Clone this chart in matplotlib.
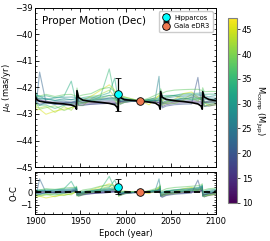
import numpy as np
import matplotlib
matplotlib.use("Agg")
import matplotlib.pyplot as plt
from matplotlib.ticker import MultipleLocator

# epochs shared by best fit and sampled orbits
epochs = [1900, 1901.5, 1905, 1912, 1922, 1932, 1940, 1944.5, 1945.8, 1946.3,
          1948, 1953, 1962, 1972, 1982, 1988, 1990.8, 1991.8, 1992.3,
          1994, 1999, 2008, 2016, 2026, 2033, 2037, 2038.3, 2038.8,
          2040.5, 2045, 2054, 2064, 2073, 2080, 2083.5, 2084.8, 2085.3,
          2087, 2092, 2100]

best_pm = [-42.30, -42.45, -42.52, -42.56, -42.59, -42.62, -42.66, -42.72, -42.82, -42.12,
           -42.38, -42.48, -42.53, -42.56, -42.60, -42.65, -42.75, -42.88, -42.18,
           -42.38, -42.46, -42.49, -42.51, -42.55, -42.59, -42.68, -42.82, -42.15,
           -42.37, -42.45, -42.50, -42.53, -42.57, -42.62, -42.70, -42.82, -42.16,
           -42.36, -42.45, -42.50]

# companion mass of each sampled orbit
masses = [30, 42, 16, 22, 33, 45, 27, 20, 38, 35, 13, 40, 29, 24]

# O-C of each sampled orbit
resid = [
    [0.05, 0.1, 0.08, 0.12, 0.1, 0.15, 0.2, 0.25, 0.3, -0.2, -0.1, 0.0, 0.05, 0.1, 0.15, 0.2, 0.3, 0.45, -0.2, -0.1, -0.02, 0.0, 0.0, 0.05, 0.1, 0.2, 0.35, -0.25, -0.1, 0.0, 0.05, 0.1, 0.15, 0.2, 0.3, 0.4, -0.2, -0.1, 0.0, 0.05],
    [-0.2, -0.3, -0.25, -0.15, -0.35, -0.1, -0.2, 0.05, 0.2, -0.1, -0.3, -0.2, 0.1, 0.3, 0.5, 0.3, 0.2, 0.3, -0.3, -0.2, -0.05, 0.02, 0.0, 0.1, 0.2, 0.35, 0.5, -0.2, -0.15, 0.1, 0.2, 0.1, 0.3, 0.2, 0.25, 0.35, -0.25, -0.2, -0.1, 0.0],
    [0.1, 0.0, 0.05, 0.02, -0.05, 0.0, 0.05, 0.1, 0.15, -0.1, -0.25, -0.15, -0.1, -0.05, 0.0, 0.05, 0.1, 0.2, -0.15, -0.2, -0.1, -0.02, 0.0, 0.02, 0.05, 0.1, 0.2, -0.3, -0.35, -0.2, -0.1, -0.05, 0.0, 0.05, 0.1, 0.15, -0.3, -0.35, -0.2, -0.1],
    [0.0, -0.1, 1.1, 0.0, 0.05, 0.1, 0.1, 0.2, 0.25, -0.15, -0.2, -0.1, 0.0, 0.05, 0.1, 0.15, 0.25, 0.35, -0.25, -0.15, -0.05, 0.0, 0.0, 0.05, 0.1, 0.15, 0.3, -0.3, -0.2, -0.1, 0.0, 0.05, 0.1, 0.15, 0.25, 0.35, -0.3, -0.2, -0.1, 0.0],
    [0.15, 0.2, 0.15, 0.25, 0.2, 0.3, 0.9, 0.3, 0.45, 0.0, -0.05, 0.1, 0.2, 0.25, 0.4, 1.0, 0.5, 0.55, 0.0, 0.05, 0.05, 0.03, 0.0, 0.1, 0.15, 0.3, 0.5, 0.0, 0.05, 0.15, 0.2, 0.3, 0.35, 0.4, 0.5, 0.6, 0.05, 0.1, 0.2, 0.25],
    [-0.35, -0.4, -0.3, -0.45, -0.3, -0.2, -0.1, 0.0, 0.1, -0.2, -0.15, 0.0, 0.2, 0.45, 0.7, 0.55, 0.4, 0.3, -0.1, 0.0, 0.1, 0.05, 0.0, -0.1, 0.15, 0.4, 0.45, -0.15, -0.2, -0.1, 0.05, 0.3, 0.4, 0.25, 0.3, 0.4, -0.1, -0.2, -0.25, -0.15],
    [0.05, 0.05, 0.1, 0.15, 0.1, 0.2, 0.2, 0.3, 0.35, -0.05, -0.1, 0.0, 0.1, 0.15, 0.2, 0.25, 0.35, 0.5, -0.1, -0.05, 0.0, 0.0, 0.0, 0.1, 0.2, 1.1, 0.4, -0.1, -0.05, 0.05, 0.15, 0.2, 0.25, 0.3, 0.4, 0.5, -0.1, -0.05, 0.05, 0.1],
    [-0.05, -0.15, -0.1, -0.05, 0.0, -0.05, 0.0, 0.1, 0.15, -0.2, -0.3, -0.2, -0.1, -0.05, 0.0, 0.05, 0.15, 0.25, -0.2, -0.25, -0.1, -0.03, 0.0, 0.0, 0.05, 0.1, 0.25, -0.3, -0.4, -0.25, -0.15, -0.1, -0.05, 1.0, 0.15, 0.25, -0.25, -0.35, -0.25, -0.15],
    [0.2, 0.1, 0.2, 0.3, 0.25, 0.35, 0.4, 0.4, 0.5, 0.1, 0.05, 0.2, 0.3, 0.5, 0.6, 0.5, 0.45, 0.5, 0.05, 0.1, 0.1, 0.05, 0.0, 0.15, 0.3, 0.45, 0.6, 0.1, 0.15, 0.3, 0.4, 0.45, 0.5, 0.55, 0.6, 0.7, 0.15, 0.2, 0.3, 0.35],
    [-0.1, -0.2, -0.15, -0.1, -0.2, -0.05, 0.05, 0.15, 0.2, -0.2, -0.25, -0.1, 0.05, 0.2, 1.3, 0.3, 0.25, 0.35, -0.15, -0.1, 0.0, 0.02, 0.0, 0.05, 0.1, 0.2, 0.35, -0.2, -0.25, -0.1, 0.0, 0.15, 0.1, 0.2, 0.3, 0.4, -0.2, -0.25, -0.15, -0.05],
    [0.0, -0.05, 0.0, 0.05, 0.0, 0.05, 0.1, 0.15, 0.2, -0.1, -0.15, -0.1, -0.05, 0.0, 0.05, 0.1, 0.15, 0.25, -0.1, -0.15, -0.05, 0.0, 0.0, 0.0, 0.05, 0.1, 0.2, -0.2, -0.25, -0.15, -0.05, 0.0, 0.05, 0.1, 0.15, 0.2, -0.15, -0.2, -0.1, -0.05],
    [-0.25, -0.15, -0.3, -0.2, -0.1, -0.25, -0.1, 0.05, 0.1, -0.3, -0.2, -0.1, 0.0, 0.15, 0.3, 0.2, 0.1, 0.2, -0.3, -0.25, -0.1, 0.0, 0.0, 0.05, 0.0, 0.25, 0.4, -0.2, -0.3, -0.15, -0.1, 0.05, 0.2, 0.1, 0.35, 0.25, -0.3, -0.35, -0.2, -0.1],
    [0.1, 0.15, 0.2, 0.1, 0.2, 0.25, 0.3, 0.35, 0.4, 0.0, -0.05, 0.05, 0.15, 0.2, 0.3, 0.35, 0.4, 0.6, 0.0, 0.0, 0.05, 0.0, 0.0, 0.05, 0.15, 0.25, 0.45, -0.05, 0.0, 0.1, 0.2, 0.25, 0.3, 0.35, 0.45, 0.55, 0.0, 0.05, 0.1, 0.2],
    [-0.1, -0.05, -0.15, 0.0, -0.05, 0.05, 0.1, 0.2, 0.25, -0.25, -0.15, -0.05, 0.05, 0.1, 0.2, 0.25, 0.3, 0.4, -0.2, -0.15, -0.05, -0.02, 0.0, 0.02, 0.1, 0.2, 0.3, -0.25, -0.2, -0.05, 0.05, 0.1, 0.2, 0.25, 0.3, 0.45, -0.25, -0.2, -0.05, 0.05],
]

# measurements
hip_epoch, hip_pm, hip_err, hip_oc = 1991.25, -42.25, 0.62, 0.48
gaia_epoch, gaia_pm, gaia_err, gaia_oc = 2016.0, -42.51, 0.02, 0.0

mass_min, mass_max = 10, 47.3

ep = np.array(epochs)
best = np.array(best_pm)
cmap = plt.get_cmap("viridis")
norm = plt.Normalize(mass_min, mass_max)

fs = 6
fig = plt.figure(figsize=(2.7, 2.41), dpi=100)
ax1 = fig.add_axes([0.13, 0.307, 0.67, 0.66])
ax2 = fig.add_axes([0.13, 0.112, 0.67, 0.174])
cax = fig.add_axes([0.843, 0.158, 0.034, 0.768])

for m, r in zip(masses, resid):
    r = np.array(r)
    c = cmap(norm(m))
    ax1.plot(ep, best + r, color=c, lw=0.8, alpha=0.5, zorder=1)
    ax2.plot(ep, r, color=c, lw=0.8, alpha=0.5, zorder=1)

ax1.plot(ep, best, color="k", lw=1.2, zorder=3)
ax2.plot(ep, best - best, color="k", lw=1.3, ls=(0, (3.5, 2)), zorder=3)

pt = dict(fmt="o", color="k", mec="k", ms=5.5, mew=0.6, elinewidth=0.9,
          capsize=2.5, capthick=0.9, zorder=5)
ax1.errorbar(hip_epoch, hip_pm, yerr=hip_err, mfc="cyan", label="Hipparcos", **pt)
ax1.errorbar(gaia_epoch, gaia_pm, yerr=gaia_err, mfc="#f07850", label="Gaia eDR3", **pt)
ax2.errorbar(hip_epoch, hip_oc, yerr=hip_err, mfc="cyan", **pt)
ax2.errorbar(gaia_epoch, gaia_oc, yerr=gaia_err, mfc="#f07850", **pt)

ax1.set_xlim(1900, 2100)
ax1.set_ylim(-45, -39)
ax2.set_xlim(1900, 2100)
ax2.set_ylim(-1.75, 1.65)

for ax in (ax1, ax2):
    ax.xaxis.set_major_locator(MultipleLocator(50))
    ax.xaxis.set_minor_locator(MultipleLocator(10))
    ax.tick_params(which="both", direction="in", top=True, right=True, labelsize=fs, pad=2)
    ax.tick_params(which="major", length=3, width=0.6)
    ax.tick_params(which="minor", length=1.5, width=0.5)
    for s in ax.spines.values():
        s.set_linewidth(0.7)
ax1.yaxis.set_major_locator(MultipleLocator(1))
ax1.yaxis.set_minor_locator(MultipleLocator(0.2))
ax1.tick_params(labelbottom=False)
ax2.yaxis.set_major_locator(MultipleLocator(1))
ax2.yaxis.set_minor_locator(MultipleLocator(0.2))

ax1.set_ylabel(r"$\mu_{\delta}$ (mas/yr)", fontsize=fs, labelpad=1)
ax2.set_ylabel("O-C", fontsize=fs, labelpad=1)
ax2.set_xlabel("Epoch (year)", fontsize=fs, labelpad=2)
ax1.text(0.04, 0.95, "Proper Motion (Dec)", transform=ax1.transAxes, fontsize=7.5, va="top")
ax1.legend(loc="upper right", fontsize=4.8, handletextpad=0.6, borderpad=0.5,
           labelspacing=0.35, handlelength=1.2, framealpha=1, edgecolor="0.8", fancybox=True)

sm = matplotlib.cm.ScalarMappable(norm=norm, cmap=cmap)
cb = fig.colorbar(sm, cax=cax)
cb.set_ticks([10, 15, 20, 25, 30, 35, 40, 45])
cb.ax.tick_params(labelsize=fs, length=2, width=0.5, pad=1.5)
cb.outline.set_edgecolor("0.5")
cb.set_label(r"M$_{\rm comp}$ (M$_{\rm Jup}$)", rotation=270, fontsize=fs, labelpad=10)

fig.savefig("out.png", dpi=100)
